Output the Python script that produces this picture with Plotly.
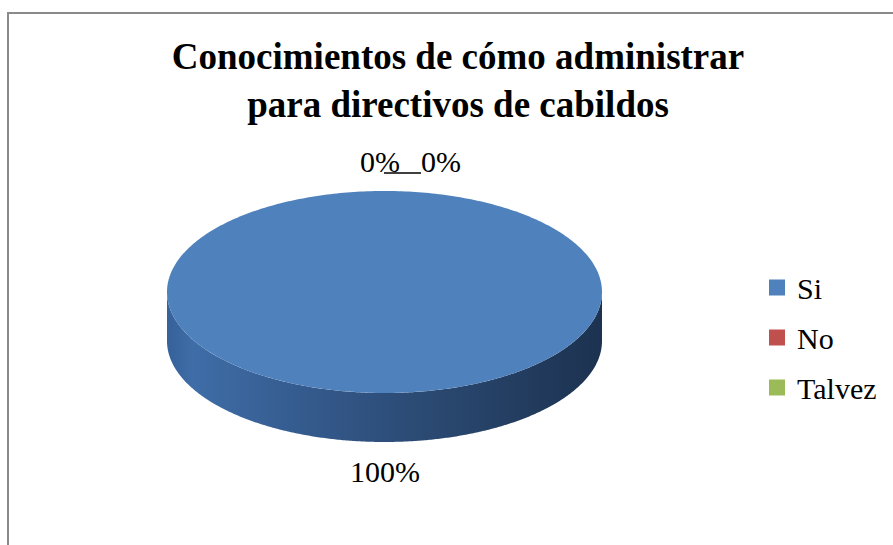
import numpy as np
import plotly.graph_objects as go

# ---- data ----
categories = ["Si", "No", "Talvez"]
values = [100, 0, 0]
colors = ["#4f81bd", "#c0504d", "#9bbb59"]
title_text = "Conocimientos de cómo administrar<br>para directivos de cabildos"

# ---- geometry / style ----
W, H = 893, 545
CX_PX, CY_PX, RX_PX = 384.5, 292.0, 217.5
TILT = 101 / RX_PX
DEPTH = 49 / RX_PX
LABEL_OFF = 0.135
FONT = "Liberation Serif"

side_scale = {
    "Si": [[0, "#36619a"], [0.06, "#3f6da7"], [0.35, "#33588a"], [0.62, "#2a4870"], [1, "#1c3250"]],
    "No": [[0, "#9e3f3c"], [1, "#5e2422"]],
    "Talvez": [[0, "#80a049"], [1, "#4b5e2a"]],
}

total = float(sum(values))
fig = go.Figure()


def arc(a0, a1, n=400):
    # angles in degrees, clockwise from 12 o'clock
    t = np.radians(90 - np.linspace(a0, a1, n))
    return np.cos(t), TILT * np.sin(t)


cum = 0.0
slices = []
for cat, v, c in zip(categories, values, colors):
    a0 = 360 * cum / total
    a1 = 360 * (cum + v) / total
    slices.append((cat, v, c, a0, a1))
    cum += v

# sides (front half: clockwise angles 90..270)
for cat, v, c, a0, a1 in slices:
    if v <= 0:
        continue
    s0, s1 = max(a0, 90), min(a1, 270)
    if s1 > s0:
        x, y = arc(s0, s1)
        xs = np.concatenate([x, x[::-1]])
        ys = np.concatenate([y, (y - DEPTH)[::-1]])
        fig.add_trace(go.Scatter(
            x=xs, y=ys, fill="toself", mode="none",
            fillgradient=dict(type="horizontal", colorscale=side_scale[cat]),
            showlegend=False, hoverinfo="skip"))

# tops
for cat, v, c, a0, a1 in slices:
    if v <= 0:
        continue
    x, y = arc(a0, a1)
    if a1 - a0 < 360:
        x = np.concatenate([[0], x, [0]])
        y = np.concatenate([[0], y, [0]])
    fig.add_trace(go.Scatter(
        x=x, y=y, fill="toself", mode="none", fillcolor=c,
        showlegend=False, hoverinfo="skip"))

# legend entries
for i, (cat, c) in enumerate(zip(categories, colors)):
    fig.add_trace(go.Scatter(
        x=[None], y=[None], mode="markers", name=cat, legendgroup=cat,
        marker=dict(symbol="square", size=16, color=c)))

# data labels
xshifts = {"Si": 0, "No": -5, "Talvez": 56}
for cat, v, c, a0, a1 in slices:
    mid = (a0 + a1) / 2
    t = np.radians(90 - mid)
    lx, ly = np.cos(t), TILT * np.sin(t)
    if ly < 0:
        ly = ly - DEPTH - LABEL_OFF
    else:
        ly = ly + LABEL_OFF
    fig.add_annotation(
        x=lx, y=ly, text=f"{v / total * 100:.0f}%", showarrow=False,
        xshift=xshifts[cat], font=dict(family=FONT, size=30, color="#000000"))

# leader line between the 0% labels
fig.add_shape(type="line", xref="paper", yref="paper",
              x0=384 / W, x1=421 / W, y0=1 - 173 / H, y1=1 - 173 / H,
              line=dict(color="#000000", width=1.5))

# chart border
fig.add_shape(type="rect", xref="paper", yref="paper",
              x0=8 / W, x1=1.02, y0=-0.02, y1=1 - 13 / H,
              line=dict(color="#8a8a8a", width=2))

fig.update_layout(
    width=W, height=H,
    margin=dict(l=0, r=0, t=0, b=0),
    paper_bgcolor="white", plot_bgcolor="white",
    title=dict(text=title_text, x=458 / W, xanchor="center",
               y=1 - 69 / H, yanchor="top", yref="paper",
               font=dict(family=FONT, size=37, color="#000000", weight="bold")),
    xaxis=dict(range=[-CX_PX / RX_PX, (W - CX_PX) / RX_PX], visible=False, fixedrange=True),
    yaxis=dict(range=[-(H - CY_PX) / RX_PX, CY_PX / RX_PX], visible=False, fixedrange=True),
    legend=dict(x=757 / W, xanchor="left", y=1 - 261.5 / H, yanchor="top",
                font=dict(family=FONT, size=30, color="#000000"),
                tracegroupgap=8, bgcolor="rgba(0,0,0,0)", itemclick=False),
    showlegend=True,
)

fig.write_html("out.html")
